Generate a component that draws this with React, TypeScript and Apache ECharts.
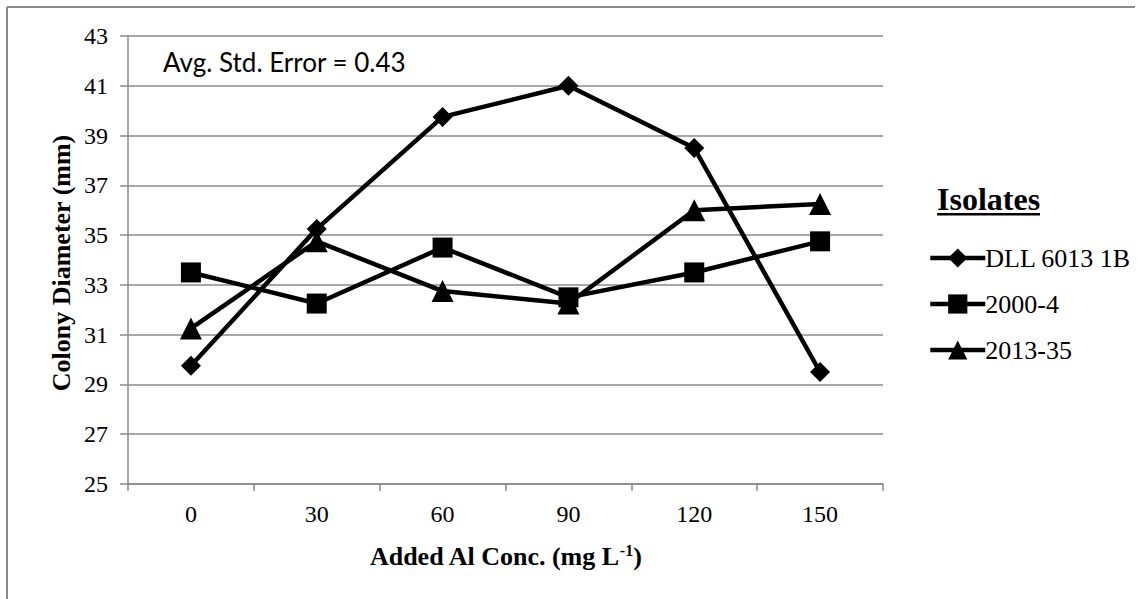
import React, { useEffect, useRef } from "react";
import * as echarts from "echarts";

const categories = ["0", "30", "60", "90", "120", "150"];
const dll6013 = [29.75, 35.25, 39.75, 41, 38.5, 29.5];
const iso2000 = [33.5, 32.25, 34.5, 32.5, 33.5, 34.75];
const iso2013 = [31.25, 34.75, 32.75, 32.25, 36, 36.25];
const seriesNames = ["DLL 6013 1B", "2000-4", "2013-35"];
const yMin = 25;
const yMax = 43;
const yStep = 2;

const SERIF = "'Liberation Serif', 'Times New Roman', serif";
const GRAY = "#8a8a8a";

export default function App() {
  const ref = useRef<HTMLDivElement>(null);
  useEffect(() => {
    if (!ref.current) return;
    const chart = echarts.init(ref.current, null, { renderer: "svg" });
    const mk = (name: string, data: number[], symbol: string, size: number) => ({
      name,
      type: "line",
      data,
      symbol,
      symbolSize: size,
      lineStyle: { color: "#000", width: 4.5 },
      itemStyle: { color: "#000" },
      z: 3,
    });
    chart.setOption({
      animation: false,
      backgroundColor: "#fff",
      grid: { left: 128, top: 36, right: 262, bottom: 115, containLabel: false },
      xAxis: {
        type: "category",
        data: categories,
        boundaryGap: true,
        axisLine: { lineStyle: { color: GRAY, width: 1.5 } },
        axisTick: { show: true, length: 7, lineStyle: { color: GRAY, width: 1.5 } },
        axisLabel: { color: "#000", fontFamily: SERIF, fontSize: 24, margin: 18 },
        name: "{a|Added Al Conc. (mg L}{s|-1}{a|)}",
        nameLocation: "middle",
        nameGap: 58,
        nameTextStyle: {
          rich: {
            a: { fontFamily: SERIF, fontSize: 26, fontWeight: "bold", color: "#000" },
            s: { fontFamily: SERIF, fontSize: 16, fontWeight: "bold", color: "#000", padding: [0, 0, 12, 0] },
          },
        },
      },
      yAxis: {
        type: "value",
        min: yMin,
        max: yMax,
        interval: yStep,
        axisLine: { show: true, lineStyle: { color: GRAY, width: 1.5 } },
        axisTick: { show: true, length: 8, lineStyle: { color: GRAY, width: 1.5 } },
        axisLabel: { color: "#000", fontFamily: SERIF, fontSize: 24, margin: 20 },
        splitLine: { show: true, lineStyle: { color: GRAY, width: 1.5 } },
      },
      legend: {
        orient: "vertical",
        left: 923,
        top: 238,
        itemWidth: 55,
        itemHeight: 24,
        itemGap: 16,
        data: seriesNames,
        lineStyle: { width: 4.5, color: "#000" },
        textStyle: { fontFamily: SERIF, fontSize: 26, color: "#000", lineHeight: 30, padding: [0, 0, 0, -5] },
      },
      series: [
        mk(seriesNames[0], dll6013, "diamond", 20),
        mk(seriesNames[1], iso2000, "rect", 20),
        mk(seriesNames[2], iso2013, "triangle", 22),
      ],
      graphic: [
        { type: "line", shape: { x1: 7, y1: 7, x2: 1135, y2: 7 }, style: { stroke: GRAY, lineWidth: 2 } },
        { type: "line", shape: { x1: 7, y1: 7, x2: 7, y2: 599 }, style: { stroke: GRAY, lineWidth: 2 } },
        {
          type: "text",
          x: 163,
          y: 62,
          style: {
            text: "Avg. Std. Error = 0.43",
            font: "26px Lato, 'Open Sans', sans-serif",
            fill: "#000",
            textVerticalAlign: "middle",
          },
        },
        {
          type: "text",
          x: 61,
          y: 263,
          rotation: Math.PI / 2,
          style: {
            text: "Colony Diameter (mm)",
            font: "bold 26px 'Liberation Serif', 'Times New Roman', serif",
            fill: "#000",
            textAlign: "center",
            textVerticalAlign: "middle",
          },
        },
        {
          type: "text",
          x: 937,
          y: 199,
          style: {
            text: "Isolates",
            font: "bold 32px 'Liberation Serif', 'Times New Roman', serif",
            fill: "#000",
            textVerticalAlign: "middle",
          },
        },
        { type: "rect", shape: { x: 937, y: 213, width: 103, height: 2.5 }, style: { fill: "#000" } },
      ],
    });
    return () => chart.dispose();
  }, []);
  return (
    <div
      ref={ref}
      style={{ position: "absolute", left: 0, top: 0, width: 1145, height: 599, background: "#fff" }}
    />
  );
}
